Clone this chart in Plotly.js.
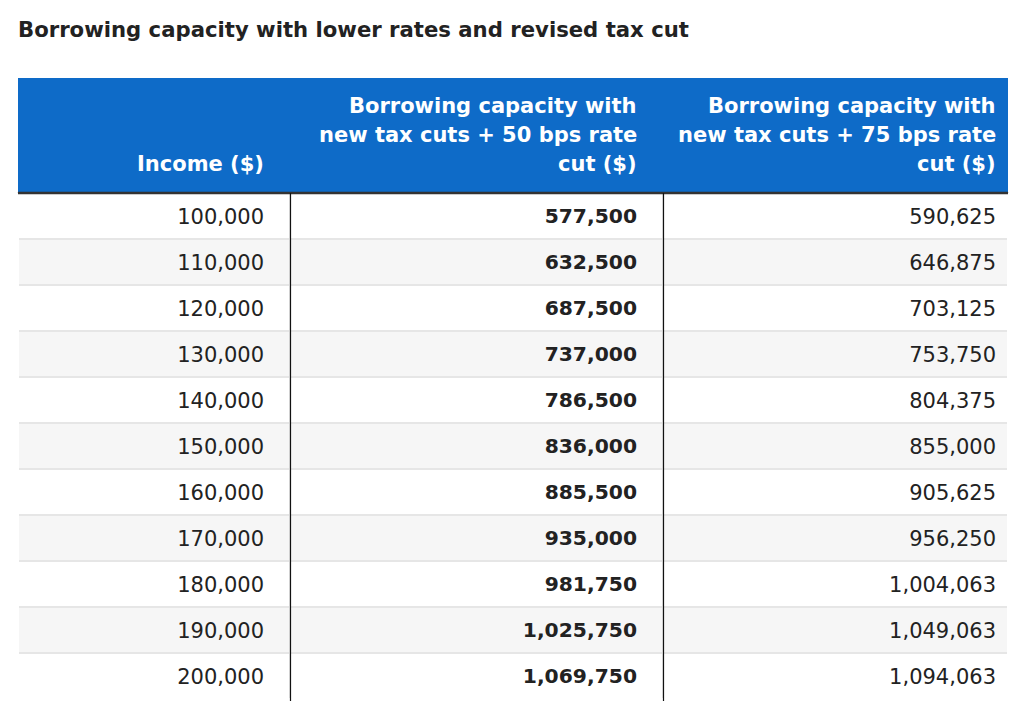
<!DOCTYPE html>
<html>
<head>
<meta charset="utf-8">
<script src="https://cdn.plot.ly/plotly-3.0.1.min.js"></script>
<style>html,body{margin:0;padding:0;background:#fff;}#chart{width:1024px;height:706px;}</style>
</head>
<body>
<div id="chart"></div>
<script>
const titleText = "Borrowing capacity with lower rates and revised tax cut";
const headers = [
  ["Income ($)"],
  ["Borrowing capacity with", "new tax cuts + 50 bps rate", "cut ($)"],
  ["Borrowing capacity with", "new tax cuts + 75 bps rate", "cut ($)"]
];
const income = [100000,110000,120000,130000,140000,150000,160000,170000,180000,190000,200000];
const cap50 = [577500,632500,687500,737000,786500,836000,885500,935000,981750,1025750,1069750];
const cap75 = [590625,646875,703125,753750,804375,855000,905625,956250,1004063,1049063,1094063];

const fmt = v => v.toLocaleString("en-US");
const W = 1024, H = 706;
const rowFill = income.map((_, i) => i % 2 === 0 ? "#ffffff" : "#f6f6f6");
const blank = income.map(() => "");

// geometry (pixels)
const tableLeft = 18, tableRight = 1008, tableTop = 78, headerH = 115, rowH = 46;
const tableBottom = tableTop + headerH + rowH * income.length;
const colEdges = [18, 290, 663, 1008];
const textRight = [264, 637, 996];
const textShift = 7;
const headLineGap = 29, headLastCenter = 164;
const px = v => v / W, py = v => 1 - v / H;

const bg = {
  type: "table",
  domain: {x: [px(tableLeft), px(tableRight)], y: [py(tableBottom), py(tableTop)]},
  columnwidth: [colEdges[1] - colEdges[0], colEdges[2] - colEdges[1], colEdges[3] - colEdges[2]],
  header: {
    values: ["", "", ""],
    height: headerH,
    fill: {color: "#0e6bc8"},
    line: {color: "#0e6bc8", width: 0}
  },
  cells: {
    values: [blank, blank, blank],
    height: rowH,
    fill: {color: [rowFill, rowFill, rowFill]},
    line: {color: "#e6e6e6", width: 1.5}
  }
};

const tCols = [tableLeft, textRight[0] + 8, textRight[1] + 8, textRight[2] + 8];
const fg = {
  type: "table",
  domain: {x: [px(tCols[0]), px(tCols[3])], y: [py(tableTop + headerH + textShift + rowH * income.length), py(tableTop)]},
  columnwidth: [tCols[1] - tCols[0], tCols[2] - tCols[1], tCols[3] - tCols[2]],
  header: {
    values: ["", "", ""],
    height: headerH + textShift,
    fill: {color: "rgba(0,0,0,0)"},
    line: {color: "rgba(0,0,0,0)", width: 0}
  },
  cells: {
    values: [income.map(fmt), cap50.map(fmt), cap75.map(fmt)],
    align: "right",
    height: rowH,
    fill: {color: "rgba(0,0,0,0)"},
    line: {color: "rgba(0,0,0,0)", width: 0},
    font: {family: "DejaVu Sans", size: [21, 20.3, 21], color: "#222222", weight: ["normal", "bold", "normal"]}
  }
};

const firstRowTop = tableTop + headerH;
const shapes = [
  {type: "line", xref: "paper", yref: "paper", x0: px(tableLeft), x1: px(tableLeft), y0: py(firstRowTop), y1: py(tableBottom), line: {color: "#ffffff", width: 2}},
  {type: "line", xref: "paper", yref: "paper", x0: px(tableRight), x1: px(tableRight), y0: py(firstRowTop), y1: py(tableBottom), line: {color: "#ffffff", width: 2}},
  {type: "line", xref: "paper", yref: "paper", x0: px(tableLeft), x1: px(tableRight), y0: py(tableBottom), y1: py(tableBottom), line: {color: "#ffffff", width: 2}},
  {type: "line", xref: "paper", yref: "paper", x0: px(tableLeft), x1: px(tableRight), y0: py(firstRowTop), y1: py(firstRowTop), line: {color: "#333333", width: 2.5}},
  {type: "line", xref: "paper", yref: "paper", x0: px(colEdges[1] + 0.5), x1: px(colEdges[1] + 0.5), y0: py(firstRowTop), y1: py(tableBottom + 2), line: {color: "#111111", width: 1.2}},
  {type: "line", xref: "paper", yref: "paper", x0: px(colEdges[2] + 0.5), x1: px(colEdges[2] + 0.5), y0: py(firstRowTop), y1: py(tableBottom + 2), line: {color: "#111111", width: 1.2}}
];

const annotations = [];
headers.forEach((lines, i) => {
  lines.forEach((ln, j) => {
    const fromBottom = lines.length - 1 - j;
    annotations.push({
      text: "<b>" + ln + "</b>",
      xref: "paper", yref: "paper",
      x: px(textRight[i] + 2), xanchor: "right",
      y: py(headLastCenter - fromBottom * headLineGap), yanchor: "middle",
      showarrow: false,
      font: {family: "DejaVu Sans", size: 21, color: "#ffffff"}
    });
  });
});

const layout = {
  width: W, height: H,
  margin: {l: 0, r: 0, t: 0, b: 0},
  paper_bgcolor: "#ffffff",
  title: {
    text: "<b>" + titleText + "</b>",
    x: px(18), xanchor: "left", xref: "paper",
    y: py(30), yanchor: "middle", yref: "container",
    font: {family: "DejaVu Sans", size: 21.2, color: "#222222"}
  },
  shapes: shapes,
  annotations: annotations
};

Plotly.newPlot("chart", [bg, fg], layout, {displayModeBar: false, staticPlot: true});
</script>
</body>
</html>
